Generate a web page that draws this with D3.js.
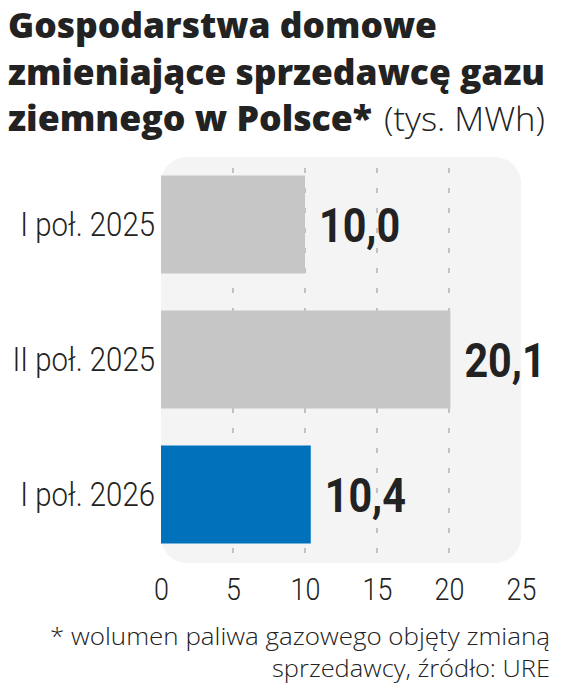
<!DOCTYPE html>
<html><head><meta charset="utf-8">
<script src="https://cdn.jsdelivr.net/npm/d3@7"></script>
<style>html,body{margin:0;padding:0;background:#fff}svg{display:block}</style>
</head><body>
<svg id="c" width="564" height="694"></svg>
<script>
const categories = ["I poł. 2025", "II poł. 2025", "I poł. 2026"];
const values = [10.0, 20.1, 10.4];
const valueLabels = ["10,0", "20,1", "10,4"];
const tickValues = [0, 5, 10, 15, 20, 25];
const gridValues = [5, 10, 15, 20];
const titleLines = ["Gospodarstwa domowe", "zmieniające sprzedawcę gazu", "ziemnego w Polsce*"];
const titleUnit = "(tys. MWh)";
const footnoteLines = ["* wolumen paliwa gazowego objęty zmianą", "sprzedawcy, źródło: URE"];

const svg = d3.select("#c");
const x = d3.scaleLinear().domain([0, 25]).range([161, 521]);
const y = d3.scaleBand().domain(categories).range([157, 562]).paddingInner(0.274).paddingOuter(0.137);
const colors = ["#c6c6c6", "#c6c6c6", "#0071bb"];

function fit(sel, w) { sel.attr("textLength", w).attr("lengthAdjust", "spacingAndGlyphs"); }
function condense(sel, f) {
  sel.each(function () { const n = this.getComputedTextLength(); d3.select(this).attr("textLength", n * f).attr("lengthAdjust", "spacingAndGlyphs"); });
}

// Title
const tFont = "'Open Sans', sans-serif";
const tW = [429, 537, 364];
const tY = [38, 85, 131];
titleLines.forEach((t, i) => {
  svg.append("text").attr("x", 8).attr("y", tY[i]).text(t)
    .attr("font-family", tFont).attr("font-weight", 800).attr("font-size", 35).attr("fill", "#222")
    .call(fit, tW[i]);
});
svg.append("text").attr("x", 384).attr("y", 131).text(titleUnit)
  .attr("font-family", tFont).attr("font-weight", 300).attr("font-size", 33).attr("fill", "#222")
  .call(fit, 161);

// Panel
svg.append("rect").attr("x", x(0)).attr("y", 157).attr("width", x(25) - x(0)).attr("height", 406)
  .attr("rx", 26).attr("fill", "#f4f4f4");

// Grid
svg.selectAll("line.grid").data(gridValues).enter().append("line")
  .attr("x1", d => x(d)).attr("x2", d => x(d)).attr("y1", 168).attr("y2", 565)
  .attr("stroke", "#a8a8a8").attr("stroke-width", 1.3).attr("stroke-dasharray", "5,15");

// Bars
svg.selectAll("rect.bar").data(values).enter().append("rect")
  .attr("x", x(0)).attr("y", (d, i) => y(categories[i]))
  .attr("width", d => x(d) - x(0)).attr("height", y.bandwidth())
  .attr("fill", (d, i) => colors[i]);

// Value labels
svg.selectAll("text.val").data(values).enter().append("text")
  .attr("x", d => x(d) + 14).attr("y", (d, i) => y(categories[i]) + y.bandwidth() / 2 + 17)
  .text((d, i) => valueLabels[i])
  .attr("font-family", "Roboto, sans-serif").attr("font-weight", 700).attr("font-size", 48).attr("fill", "#222")
  .call(condense, 0.86);

// Category labels
svg.selectAll("text.cat").data(categories).enter().append("text")
  .attr("x", 155).attr("y", d => y(d) + y.bandwidth() / 2 + 11)
  .attr("text-anchor", "end").text(d => d)
  .attr("font-family", "Roboto, sans-serif").attr("font-weight", 300).attr("font-size", 33).attr("fill", "#222")
  .call(condense, 0.89);

// Axis ticks
const ax = svg.append("g").attr("transform", "translate(0,600)")
  .call(d3.axisBottom(x).tickValues(tickValues).tickSize(0).tickPadding(0));
ax.select(".domain").remove();
ax.selectAll("text").attr("dy", 0).attr("font-family", "Roboto, sans-serif").attr("font-weight", 300)
  .attr("font-size", 32).attr("fill", "#222").call(condense, 0.84);

// Footnote
const fW = [500, 278];
const fY = [645, 677];
footnoteLines.forEach((t, i) => {
  svg.append("text").attr("x", 550).attr("y", fY[i]).attr("text-anchor", "end").text(t)
    .attr("font-family", tFont).attr("font-weight", 300).attr("font-size", 23).attr("fill", "#222")
    .call(fit, fW[i]);
});
</script>
</body></html>
